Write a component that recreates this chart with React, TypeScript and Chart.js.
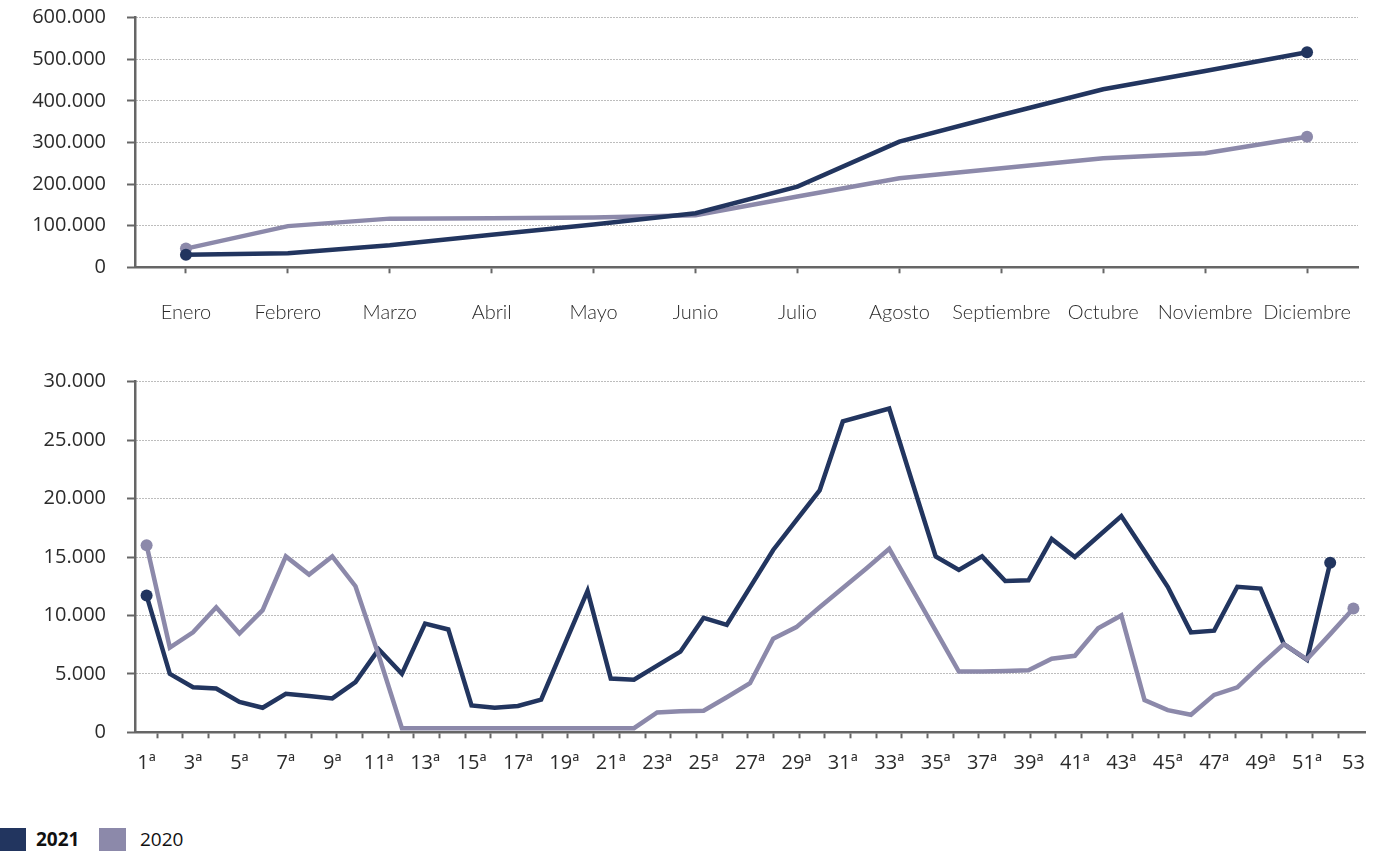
import React, { useEffect, useRef } from 'react';
import { Chart, registerables } from 'chart.js';

Chart.register(...registerables);

// ---------- Data ----------
const months = ['Enero', 'Febrero', 'Marzo', 'Abril', 'Mayo', 'Junio', 'Julio', 'Agosto', 'Septiembre', 'Octubre', 'Noviembre', 'Diciembre'];
const monthly2021 = [30000, 34000, 53000, 78000, 103000, 130000, 194000, 302000, 366000, 428000, 472000, 517000];
const monthly2020 = [45000, 99000, 117000, 118000, 120000, 125000, 170000, 214000, 238000, 262000, 274000, 314000];

const weekLabels = ['1ª', '', '3ª', '', '5ª', '', '7ª', '', '9ª', '', '11ª', '', '13ª', '', '15ª', '', '17ª', '', '19ª', '', '21ª', '', '23ª', '', '25ª', '', '27ª', '', '29ª', '', '31ª', '', '33ª', '', '35ª', '', '37ª', '', '39ª', '', '41ª', '', '43ª', '', '45ª', '', '47ª', '', '49ª', '', '51ª', '', '53'];
const weekly2021 = [
  11700, 5000, 3850, 3750, 2600, 2100, 3300, 3100, 2900, 4300,
  7100, 5000, 9300, 8800, 2300, 2100, 2250, 2800, 7450, 12100,
  4600, 4500, 5700, 6900, 9800, 9200, 12400, 15600, 18150, 20700,
  26600, 27150, 27700, 21350, 15050, 13900, 15050, 12950, 13000, 16550,
  15000, 16750, 18500, 15500, 12450, 8550, 8700, 12450, 12300, 7550,
  6200, 14500,
];
const weekly2020 = [
  16000, 7250, 8550, 10700, 8450, 10450, 15050, 13500, 15050, 12500,
  6600, 350, 350, 350, 350, 350, 350, 350, 350, 350,
  350, 350, 1700, 1800, 1850, 3000, 4200, 8000, 9000, 10700,
  12350, 14000, 15700, 12200, 8700, 5200, 5200, 5250, 5300, 6300,
  6550, 8900, 10000, 2750, 1900, 1500, 3200, 3850, 5750, 7550,
  6250, 8400, 10600,
];
const seriesNames = ['2021', '2020'];

// ---------- Styles ----------
const DARK = '#22355f';
const LIGHT = '#8c89aa';
const AXIS = '#666666';
const GRID = '#7a7a7a';
const TEXT = '#2b2b2b';
const NUMFONT = "'Open Sans', 'Noto Sans', sans-serif";
const MONTHFONT = "Lato, 'Open Sans', sans-serif";

const fmt = (v: number | string) => {
  const n = Number(v);
  return n === 0 ? '0' : String(n).replace(/\B(?=(\d{3})+(?!\d))/g, '.');
};

const endpointRadius = (n: number, r: number) => (ctx: any) =>
  ctx.dataIndex === 0 || ctx.dataIndex === n - 1 ? r : 0;

const gridColor = (ctx: any) => (ctx.tick && ctx.tick.value === 0 ? 'rgba(0,0,0,0)' : GRID);

function ChartCanvas({ config, width, height, style }: { config: any; width: number; height: number; style: React.CSSProperties }) {
  const ref = useRef<HTMLCanvasElement | null>(null);
  useEffect(() => {
    if (!ref.current) return;
    const chart = new Chart(ref.current, config);
    return () => chart.destroy();
  }, []);
  return <canvas ref={ref} width={width} height={height} style={{ position: 'absolute', display: 'block', width, height, ...style }} />;
}

const yScale = (max: number, step: number) => ({
  min: 0,
  max,
  ticks: { stepSize: step, callback: fmt, color: TEXT, font: { family: NUMFONT, size: 20 }, padding: 21 },
  grid: { color: gridColor, lineWidth: 1, drawTicks: true, tickLength: 8, tickColor: AXIS, tickWidth: 2, tickBorderDash: [] },
  border: { color: AXIS, width: 2.5, dash: [1, 2] },
  afterFit: (s: any) => { s.width = 135; s.paddingTop = 0; s.paddingBottom = 0; },
});

const lineDs = (label: string, data: number[], color: string, order: number) => ({
  label,
  data,
  borderColor: color,
  backgroundColor: color,
  borderWidth: 4.5,
  tension: 0,
  pointRadius: endpointRadius(data.length, 6),
  pointHoverRadius: 0,
  pointBorderWidth: 0,
  pointBackgroundColor: color,
  order,
});

const topConfig = {
  type: 'line',
  data: {
    labels: months,
    datasets: [
      lineDs(seriesNames[0], monthly2021, DARK, 0),
      lineDs(seriesNames[1], monthly2020, LIGHT, 1),
    ],
  },
  options: {
    animation: false,
    responsive: false,
    devicePixelRatio: 1,
    layout: { padding: { top: 17.7, right: 23, bottom: 0, left: 0 } },
    plugins: { legend: { display: false }, tooltip: { enabled: false } },
    scales: {
      x: {
        type: 'category',
        offset: true,
        grid: { display: true, drawOnChartArea: false, drawTicks: true, tickLength: 6, tickColor: AXIS, tickWidth: 2 },
        border: { display: true, color: AXIS, width: 2.5 },
        ticks: { color: TEXT, font: { family: MONTHFONT, size: 20, weight: 300 }, padding: 27, maxRotation: 0, autoSkip: false },
        afterFit: (s: any) => { s.height = 340 - 267.3; },
      },
      y: yScale(600000, 100000),
    },
  },
};

const bottomConfig = {
  type: 'line',
  data: {
    labels: weekLabels,
    datasets: [
      lineDs(seriesNames[0], weekly2021, DARK, 1),
      lineDs(seriesNames[1], weekly2020, LIGHT, 0),
    ],
  },
  options: {
    animation: false,
    responsive: false,
    devicePixelRatio: 1,
    layout: { padding: { top: 41.7, right: 16, bottom: 0, left: 0 } },
    plugins: { legend: { display: false }, tooltip: { enabled: false } },
    scales: {
      x: {
        type: 'category',
        offset: true,
        weight: 1,
        grid: { display: false, drawTicks: false },
        border: { display: false },
        ticks: { color: TEXT, font: { family: NUMFONT, size: 20 }, padding: 13, maxRotation: 0, autoSkip: false },
        afterFit: (s: any) => { s.height = 480 - 392.3 - 6; },
      },
      x2: {
        type: 'linear',
        position: 'bottom',
        weight: 0,
        min: -0.869,
        max: 47.05,
        ticks: { display: false, stepSize: 1, includeBounds: false, maxTicksLimit: 1000 },
        afterBuildTicks: (s: any) => { s.ticks = s.ticks.filter((t: any) => t.value >= 0 && t.value <= 46); },
        grid: { display: true, drawOnChartArea: false, drawTicks: true, tickLength: 6, tickColor: AXIS, tickWidth: 2 },
        border: { display: true, color: AXIS, width: 2.5 },
        afterFit: (s: any) => { s.height = 6; },
      },
      y: yScale(30000, 5000),
    },
  },
};

export default function App() {
  const legendText: React.CSSProperties = { position: 'absolute', top: 826, fontFamily: "'Open Sans', sans-serif", fontSize: 19, lineHeight: '26px', color: '#111' };
  return (
    <div style={{ position: 'absolute', left: 0, top: 0, width: 1381, height: 852, overflow: 'hidden', background: '#fff' }}>
      <ChartCanvas config={topConfig} width={1381} height={340} style={{ left: 0, top: 0 }} />
      <ChartCanvas config={bottomConfig} width={1381} height={480} style={{ left: 0, top: 340 }} />
      <div style={{ position: 'absolute', left: 0, top: 828, width: 26, height: 23, background: DARK }} />
      <div style={{ ...legendText, left: 36, fontWeight: 700 }}>{seriesNames[0]}</div>
      <div style={{ position: 'absolute', left: 99, top: 828, width: 27, height: 23, background: LIGHT }} />
      <div style={{ ...legendText, left: 140 }}>{seriesNames[1]}</div>
    </div>
  );
}
